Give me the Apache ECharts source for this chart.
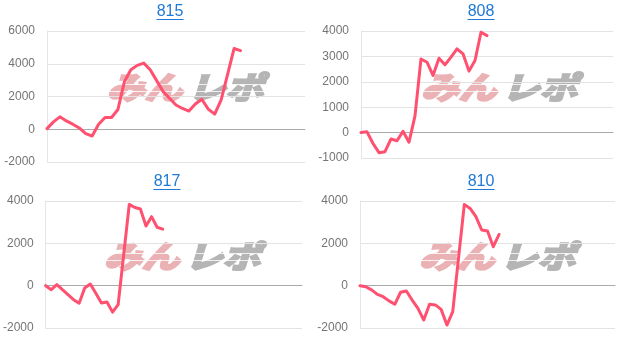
<!DOCTYPE html>
<html><head><meta charset="utf-8">
<script src="https://cdn.jsdelivr.net/npm/echarts@6/dist/echarts.min.js"></script>
<style>html,body{margin:0;padding:0;background:#fff}#c{width:623px;height:343px}</style>
</head><body><div id="c"></div>
<script>
// ---- data ----
const titles = ['815', '808', '817', '810'];
const s815 = [40, 450, 760, 510, 310, 80, -270, -410, 310, 720, 720, 1210, 2910, 3630, 3900, 4040, 3630, 2970, 2300, 1890, 1480, 1270, 1110, 1540, 1830, 1230, 920, 1800, 3350, 4930, 4800];
const s808 = [0, 30, -430, -790, -750, -250, -320, 50, -380, 660, 2900, 2770, 2250, 2930, 2670, 2970, 3300, 3100, 2420, 2840, 3950, 3820];
const s817 = [0, -190, 50, -190, -420, -660, -830, -110, 80, -360, -820, -770, -1250, -900, 1470, 3840, 3690, 3620, 2820, 3260, 2760, 2670];
const s810 = [0, -50, -200, -410, -520, -720, -880, -310, -250, -680, -1070, -1620, -880, -910, -1120, -1860, -1230, 1300, 3840, 3650, 3260, 2630, 2580, 1840, 2420];
const seriesData = [s815, s808, s817, s810];
const yMin = [-2000, -1000, -2000, -2000];
const yMax = [6000, 4000, 4000, 4000];
const yStep = [2000, 1000, 2000, 2000];
const slotCount = [41, 43, 47, 45];

// ---- layout ----
const grids = [
  {left: 47, top: 31, width: 258, height: 131},
  {left: 361, top: 31, width: 252, height: 127},
  {left: 44, top: 201, width: 258, height: 127},
  {left: 360, top: 201, width: 255, height: 127}
];
const titlePos = [[170, 12], [481, 12], [167, 182], [481, 182]];
const markPos = [[106, 73], [420, 73], [103, 242], [418, 242]];

const lineColor = '#ff5070';
const graphic = [];
titles.forEach((t, i) => {
  const [tx, ty] = titlePos[i];
  graphic.push({type: 'text', x: tx, y: ty, z: 10,
    style: {text: t, font: '16px "Liberation Sans", Arial, sans-serif', fill: '#1e78d6',
      align: 'center', verticalAlign: 'middle', textAlign: 'center', textVerticalAlign: 'middle'}});
  graphic.push({type: 'rect', z: 10, shape: {x: tx - 13.5, y: ty + 7, width: 27, height: 1}, style: {fill: '#1e78d6'}});
  const [mx, my] = markPos[i];
  const font = 'italic bold 31px "Noto Sans CJK JP", sans-serif';
  graphic.push({type: 'text', x: mx + 1, y: my + 14, scaleX: 1.22, z: -1,
    style: {text: 'みん', font: font, fill: '#ebb2b5', stroke: '#ebb2b5', lineWidth: 2.5,
      align: 'left', verticalAlign: 'middle', textAlign: 'left', textVerticalAlign: 'middle'}});
  graphic.push({type: 'text', x: mx + 82, y: my + 14, scaleX: 1.22, z: -1,
    style: {text: 'レポ', font: font, fill: '#b5b5b5', stroke: '#b5b5b5', lineWidth: 2.5,
      align: 'left', verticalAlign: 'middle', textAlign: 'left', textVerticalAlign: 'middle'}});
  graphic.push({type: 'rect', z: -1, shape: {x: mx, y: my + 11, width: 164, height: 1}, style: {fill: '#ffffff', opacity: 0.8}});
  graphic.push({type: 'rect', z: -1, shape: {x: mx, y: my + 18, width: 164, height: 1}, style: {fill: '#ffffff', opacity: 0.8}});
});

const option = {
  animation: false,
  backgroundColor: '#fff',
  grid: grids,
  xAxis: grids.map((g, i) => ({
    type: 'category', gridIndex: i, boundaryGap: false,
    data: Array.from({length: slotCount[i]}, (_, k) => String(k + 1)),
    axisLine: {show: true, onZero: true, lineStyle: {color: '#aaaaaa', width: 1}},
    axisTick: {show: false}, axisLabel: {show: false}, splitLine: {show: false}
  })),
  yAxis: grids.map((g, i) => ({
    type: 'value', gridIndex: i, min: yMin[i], max: yMax[i], interval: yStep[i],
    axisLine: {show: true, lineStyle: {color: '#e6e6e6'}},
    axisTick: {show: false},
    axisLabel: {margin: 12, color: '#757575', fontSize: 12, fontFamily: '"Liberation Sans", Arial, sans-serif',
      formatter: v => String(v)},
    splitLine: {lineStyle: {color: '#e3e3e3'}}
  })),
  graphic: graphic,
  series: seriesData.map((d, i) => ({
    type: 'line', xAxisIndex: i, yAxisIndex: i, data: d,
    showSymbol: false, symbol: 'none', z: 5,
    lineStyle: {color: lineColor, width: 3, join: 'round', cap: 'round'}
  }))
};
echarts.init(document.getElementById('c')).setOption(option);
</script>
</body></html>
